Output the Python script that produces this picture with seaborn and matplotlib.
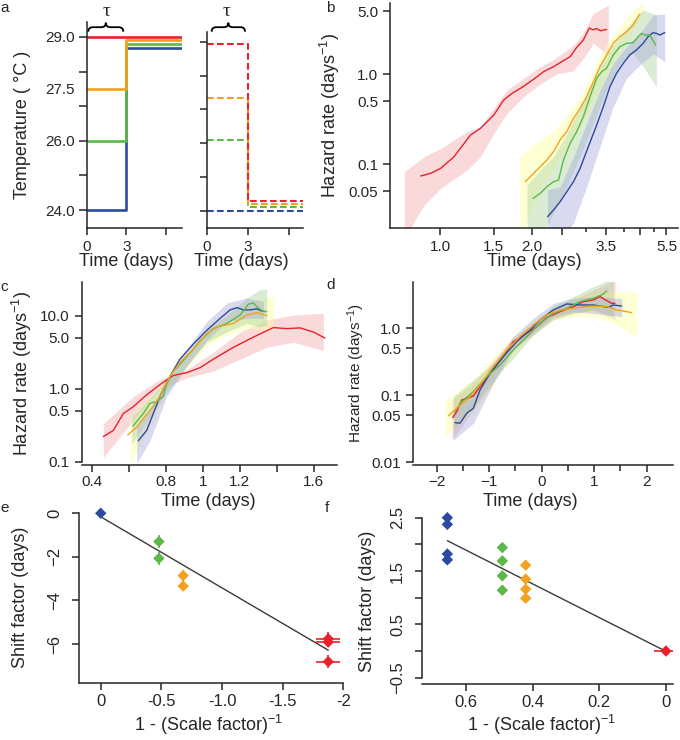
import numpy as np
import pandas as pd
import matplotlib
matplotlib.use("Agg")
import matplotlib.pyplot as plt
import seaborn as sns
from matplotlib.path import Path
from matplotlib.patches import PathPatch
from matplotlib.ticker import NullLocator
from matplotlib.transforms import Affine2D

# ---------------- data ----------------
temp_levels = ["29.0", "27.5", "26.0", "24.0"]
line_colors = ["#E8212A", "#F4A11D", "#5CB848", "#2C4A9F"]
band_colors = ["#F4A6AB", "#FFFF99", "#A9D39A", "#A5A8DA"]

# panel a: temperature protocols (tau = 3 days)
tau = 3.0
t_end_up = 7.25
t_end_down = 6.95
temp_start_up = [29.0, 27.5, 26.0, 24.0]
temp_after_up = [29.0, 28.9, 28.8, 28.68]
temp_start_down = [28.95, 27.35, 26.1, 24.0]
temp_after_down = [24.3, 24.2, 24.1, 24.0]

# panel b: hazard rate vs time (log-log)
b_red_t = [0.865, 0.932, 1.005, 1.111, 1.258, 1.356, 1.499, 1.615, 1.720, 1.854, 2.023,
           2.181, 2.350, 2.50, 2.663, 2.799, 2.942, 3.077, 3.16, 3.252, 3.35, 3.505]
b_red_h = [0.0736, 0.0788, 0.0895, 0.1206, 0.210, 0.249, 0.350, 0.514, 0.610, 0.711, 0.873,
           1.062, 1.206, 1.371, 1.559, 1.978, 2.387, 3.243, 3.10, 3.20, 3.02, 3.13]
b_orange_t = [1.901, 1.998, 2.127, 2.236, 2.350, 2.471, 2.597, 2.731, 2.871, 3.017, 3.172,
              3.334, 3.505, 3.685, 3.874, 4.072, 4.280, 4.500]
b_orange_h = [0.0636, 0.0755, 0.0934, 0.1108, 0.137, 0.185, 0.229, 0.322, 0.415, 0.560, 0.822,
              1.21, 1.63, 2.19, 2.60, 2.95, 3.50, 4.64]
b_green_t = [2.013, 2.127, 2.236, 2.350, 2.440, 2.533, 2.663, 2.799, 2.943, 3.094, 3.252,
             3.376, 3.505, 3.685, 3.874, 4.072, 4.280, 4.444, 4.557, 4.672, 4.851, 5.073]
b_green_h = [0.0415, 0.0472, 0.0560, 0.0636, 0.0664, 0.1108, 0.170, 0.229, 0.336, 0.560, 0.895,
             1.06, 1.16, 1.63, 2.01, 2.19, 2.23, 2.60, 2.83, 2.71, 2.71, 2.10]
b_blue_t = [2.247, 2.350, 2.471, 2.597, 2.731, 2.871, 3.055, 3.252, 3.420, 3.594, 3.778,
            3.972, 4.175, 4.389, 4.614, 4.790, 4.973, 5.099, 5.228, 5.428]
b_blue_h = [0.0260, 0.0308, 0.0382, 0.0493, 0.0636, 0.0895, 0.156, 0.271, 0.434, 0.723, 1.02,
            1.31, 1.63, 1.85, 2.19, 2.60, 2.88, 2.83, 2.71, 2.88]

b_red_band_t = [0.764, 0.887, 1.005, 1.227, 1.356, 1.499, 1.656, 1.877, 2.127, 2.41, 2.73, 2.942, 3.17, 3.55]
b_red_lo = [0.015, 0.035, 0.0537, 0.0858, 0.1206, 0.219, 0.365, 0.560, 0.774, 1.0, 1.089, 1.49, 2.19, 1.63]
b_red_hi = [0.0822, 0.1206, 0.149, 0.229, 0.260, 0.416, 0.664, 0.895, 1.206, 1.53, 2.10, 2.83, 4.72, 5.84]
b_orange_band_t = [1.821, 1.973, 2.127, 2.350, 2.597, 2.871, 3.172, 3.505, 3.874, 4.280, 4.614]
b_orange_lo = [0.015, 0.0283, 0.056, 0.0858, 0.156, 0.260, 0.514, 1.02, 1.85, 3.08, 4.72]
b_orange_hi = [0.121, 0.156, 0.185, 0.229, 0.350, 0.560, 1.11, 2.19, 3.36, 5.14, 6.1]
b_green_band_t = [1.924, 2.127, 2.350, 2.597, 2.871, 3.172, 3.505, 3.874, 4.280, 4.614, 5.099]
b_green_lo = [0.015, 0.015, 0.0283, 0.0560, 0.121, 0.283, 0.664, 1.31, 1.70, 1.21, 0.723]
b_green_hi = [0.0584, 0.0858, 0.121, 0.219, 0.434, 0.858, 1.70, 2.60, 3.98, 5.14, 4.52]
b_blue_band_t = [2.247, 2.471, 2.731, 3.017, 3.334, 3.685, 4.072, 4.500, 4.973, 5.428]
b_blue_lo = [0.015, 0.015, 0.022, 0.056, 0.156, 0.434, 0.895, 1.26, 1.67, 1.37]
b_blue_hi = [0.0514, 0.0560, 0.121, 0.283, 0.664, 1.31, 2.01, 2.83, 4.52, 4.64]

# panel c: rescaled time
c_red_t = [0.463, 0.517, 0.571, 0.625, 0.697, 0.769, 0.841, 0.913, 0.986, 1.058, 1.166,
           1.274, 1.382, 1.454, 1.526, 1.598, 1.661]
c_red_h = [0.221, 0.268, 0.457, 0.567, 0.825, 1.137, 1.518, 1.655, 1.942, 2.54, 3.69,
           5.09, 6.87, 6.65, 6.80, 5.98, 4.93]
c_orange_t = [0.595, 0.643, 0.679, 0.724, 0.769, 0.823, 0.877, 0.950, 1.022, 1.076, 1.166,
              1.238, 1.292, 1.346]
c_orange_h = [0.233, 0.298, 0.390, 0.537, 0.782, 1.486, 2.28, 3.50, 5.67, 7.02, 7.82,
              10.2, 11.0, 10.0]
c_green_t = [0.622, 0.679, 0.715, 0.751, 0.787, 0.805, 0.832, 0.877, 0.950, 0.986, 1.058,
             1.130, 1.202, 1.247, 1.274, 1.301, 1.328, 1.346]
c_green_h = [0.305, 0.457, 0.631, 0.666, 0.782, 1.14, 1.62, 2.16, 3.50, 4.58, 6.66,
             7.82, 10.2, 14.4, 14.9, 12.7, 11.4, 11.4]
c_blue_t = [0.652, 0.697, 0.733, 0.769, 0.805, 0.832, 0.877, 0.950, 1.022, 1.094, 1.148,
            1.184, 1.220, 1.256, 1.292, 1.319, 1.337]
c_blue_h = [0.194, 0.268, 0.457, 0.782, 1.20, 1.62, 2.54, 4.11, 6.31, 9.18, 12.0,
            12.9, 12.0, 12.0, 12.4, 11.6, 11.4]

c_red_band_t = [0.463, 0.625, 0.769, 0.914, 1.058, 1.202, 1.346, 1.490, 1.652]
c_red_lo = [0.114, 0.369, 0.968, 1.41, 1.746, 2.54, 3.69, 4.34, 3.32]
c_red_hi = [0.332, 0.782, 1.335, 1.84, 3.15, 5.98, 8.70, 10.2, 10.8]
c_orange_band_t = [0.607, 0.715, 0.805, 0.914, 1.022, 1.130, 1.238, 1.382]
c_orange_lo = [0.0969, 0.298, 0.968, 1.84, 3.90, 5.37, 6.66, 6.31]
c_orange_hi = [0.411, 0.782, 1.335, 3.15, 6.66, 10.2, 15.7, 18.4]
c_green_band_t = [0.616, 0.715, 0.805, 0.914, 1.022, 1.130, 1.238, 1.310, 1.346]
c_green_lo = [0.1745, 0.411, 0.870, 2.05, 4.34, 5.98, 7.82, 7.02, 7.41]
c_green_hi = [0.411, 0.741, 1.335, 2.83, 6.31, 10.2, 17.5, 22.8, 22.8]
c_blue_band_t = [0.643, 0.715, 0.805, 0.914, 1.022, 1.130, 1.238, 1.328]
c_blue_lo = [0.095, 0.194, 0.782, 2.05, 4.58, 8.25, 9.18, 9.18]
c_blue_hi = [0.298, 0.509, 1.335, 3.50, 8.25, 14.9, 17.5, 15.7]

# panel d: shifted time
d_red_t = [-1.695, -1.619, -1.524, -1.429, -1.302, -1.175, -0.984, -0.730, -0.540, -0.286,
           -0.095, 0.095, 0.349, 0.603, 0.794, 0.984, 1.111, 1.238, 1.333, 1.397]
d_red_h = [0.0464, 0.0571, 0.0851, 0.0902, 0.0977, 0.1346, 0.213, 0.378, 0.632, 0.842,
           1.059, 1.443, 1.773, 2.10, 2.50, 2.65, 2.97, 2.59, 2.36, 2.36]
d_orange_t = [-1.778, -1.651, -1.556, -1.397, -1.175, -0.921, -0.667, -0.413, -0.159, 0.095,
              0.349, 0.603, 0.857, 1.048, 1.238, 1.429, 1.619, 1.714]
d_orange_h = [0.0497, 0.0604, 0.0717, 0.0902, 0.1426, 0.268, 0.475, 0.751, 1.121, 1.58,
              1.88, 1.99, 2.11, 2.15, 2.11, 1.88, 1.77, 1.71]
d_green_t = [-1.651, -1.556, -1.302, -1.048, -0.794, -0.540, -0.286, -0.032, 0.222, 0.476,
             0.730, 0.984, 1.175, 1.238]
d_green_h = [0.0571, 0.076, 0.1134, 0.190, 0.2835, 0.475, 0.751, 1.19, 1.67, 1.99,
             2.50, 2.80, 3.25, 3.61]
d_blue_t = [-1.651, -1.556, -1.429, -1.302, -1.175, -0.984, -0.730, -0.476, -0.222, -0.032,
            0.222, 0.476, 0.730, 0.984, 1.175, 1.270, 1.365, 1.524]
d_blue_h = [0.0391, 0.0382, 0.0539, 0.064, 0.120, 0.213, 0.378, 0.632, 0.944, 1.33,
            1.88, 2.31, 2.23, 2.23, 2.11, 2.06, 2.23, 2.15]

d_red_band_t = [-1.714, -1.302, -0.921, -0.540, -0.159, 0.222, 0.603, 0.984, 1.397]
d_red_lo = [0.0215, 0.0604, 0.151, 0.475, 0.795, 1.41, 1.67, 1.88, 1.33]
d_red_hi = [0.0852, 0.151, 0.337, 0.751, 1.19, 1.99, 2.65, 3.73, 5.26]
d_orange_band_t = [-1.841, -1.302, -0.921, -0.540, -0.159, 0.222, 0.603, 0.984, 1.365, 1.810]
d_orange_lo = [0.0242, 0.0539, 0.151, 0.424, 0.842, 1.33, 1.49, 1.49, 1.19, 0.751]
d_orange_hi = [0.0852, 0.1694, 0.378, 0.751, 1.33, 2.11, 2.97, 3.33, 3.53, 3.53]
d_green_band_t = [-1.683, -1.302, -0.921, -0.540, -0.159, 0.222, 0.603, 0.984, 1.365]
d_green_lo = [0.0304, 0.0677, 0.1694, 0.357, 0.795, 1.33, 1.67, 1.88, 1.49]
d_green_hi = [0.0955, 0.1694, 0.300, 0.632, 1.19, 2.11, 2.97, 4.19, 5.58]
d_blue_band_t = [-1.683, -1.302, -0.921, -0.540, -0.159, 0.222, 0.603, 0.984, 1.524]
d_blue_lo = [0.0215, 0.0382, 0.151, 0.503, 0.842, 1.49, 1.77, 1.67, 1.49]
d_blue_hi = [0.0604, 0.1071, 0.300, 0.751, 1.41, 2.36, 2.80, 2.97, 2.80]

# panel e / f: shift factor vs 1 - 1/scale
e_temp = ["24.0", "26.0", "26.0", "27.5", "27.5", "29.0", "29.0", "29.0"]
e_x = [0.0, -0.48, -0.48, -0.68, -0.68, -1.876, -1.876, -1.876]
e_y = [0.0, -1.30, -2.07, -2.86, -3.34, -5.76, -5.91, -6.81]
e_xerr = [0.0, 0.0, 0.0, 0.0, 0.0, 0.1, 0.1, 0.1]
e_yerr = [0.05, 0.3, 0.3, 0.27, 0.1, 0.3, 0.1, 0.3]

f_temp = ["24.0"] * 4 + ["26.0"] * 4 + ["27.5"] * 4 + ["29.0"]
f_x = [0.656] * 4 + [0.491] * 4 + [0.421] * 4 + [0.0]
f_y = [2.5, 2.375, 1.82, 1.71, 1.94, 1.69, 1.41, 1.14, 1.61, 1.35, 1.16, 0.99, 0.0]
f_xerr = [0.0] * 12 + [0.037]
f_yerr = [0.07, 0.07, 0.07, 0.07, 0.08, 0.08, 0.08, 0.08, 0.07, 0.07, 0.07, 0.07, 0.02]

# ---------------- style ----------------
sns.set_style("ticks")
plt.rcParams["font.family"] = ["Liberation Sans", "DejaVu Sans"]
plt.rcParams["mathtext.fontset"] = "custom"
plt.rcParams["mathtext.rm"] = "Liberation Sans"
plt.rcParams["mathtext.it"] = "Liberation Sans:italic"
plt.rcParams["axes.linewidth"] = 1.1
plt.rcParams["axes.facecolor"] = "none"
plt.rcParams["xtick.major.width"] = 1.1
plt.rcParams["ytick.major.width"] = 1.1
plt.rcParams["xtick.major.size"] = 5
plt.rcParams["ytick.major.size"] = 5
plt.rcParams["xtick.labelsize"] = 11
plt.rcParams["ytick.labelsize"] = 11
plt.rcParams["axes.labelsize"] = 13

W, H = 680, 740
fig = plt.figure(figsize=(W / 100, H / 100), dpi=100, facecolor="white")
color_of = dict(zip(temp_levels, line_colors))
band_of = dict(zip(temp_levels, band_colors))


def px_axes(left, top, right, bottom):
    ax = fig.add_axes([left / W, 1 - bottom / H, (right - left) / W, (bottom - top) / H])
    ax.patch.set_visible(False)
    return ax


def place_labels(ax, xlab=None, ylab=None):
    pos = ax.get_position()
    if xlab is not None:
        ax.xaxis.set_label_coords((xlab[0] / W - pos.x0) / pos.width,
                                  ((1 - xlab[1] / H) - pos.y0) / pos.height)
        ax.xaxis.label.set_va("center")
    if ylab is not None:
        ax.yaxis.set_label_coords((ylab[0] / W - pos.x0) / pos.width,
                                  ((1 - ylab[1] / H) - pos.y0) / pos.height)
        ax.yaxis.label.set_va("center")


def brace(x0, x1, yb, h):
    xm = (x0 + x1) / 2
    q = (x1 - x0) * 0.13
    ym = yb - h / 2
    verts = [(x0, yb), (x0, ym), (x0 + q, ym), (xm - q, ym), (xm, ym), (xm, yb - h),
             (xm, ym), (xm + q, ym), (x1 - q, ym), (x1, ym), (x1, yb)]
    codes = [Path.MOVETO, Path.CURVE3, Path.CURVE3, Path.LINETO, Path.CURVE3, Path.CURVE3,
             Path.CURVE3, Path.CURVE3, Path.LINETO, Path.CURVE3, Path.CURVE3]
    trans = Affine2D().scale(1 / W, -1 / H).translate(0, 1) + fig.transFigure
    fig.add_artist(PathPatch(Path(verts, codes), fc="none", ec="black", lw=1.3, transform=trans))


def hazard_panel(ax, lines, bands):
    for lvl, t, lo, hi in bands:
        ax.fill_between(t, lo, hi, color=band_of[lvl], alpha=0.42, lw=0)
    rows = []
    for lvl, t, h in lines:
        rows.append(pd.DataFrame({"t": t, "h": h, "temp": lvl}))
    df = pd.concat(rows, ignore_index=True)
    for lvl in ["29.0", "24.0", "26.0", "27.5"]:
        sub = df[df["temp"] == lvl]
        if len(sub):
            sns.lineplot(data=sub, x="t", y="h", color=color_of[lvl], lw=1.0,
                         estimator=None, sort=False, ax=ax)
    ax.set_yscale("log")
    ax.yaxis.set_minor_locator(NullLocator())
    ax.set_xlabel("Time (days)")
    ax.set_ylabel("Hazard rate (days$^{-1}$)")


# ---------------- panel a ----------------
ax_a1 = px_axes(87, 22, 182, 227.7)
ax_a2 = px_axes(206.7, 31.7, 303, 227.7)
order_a = ["24.0", "26.0", "27.5", "29.0"]
for lvl in order_a:
    i = temp_levels.index(lvl)
    step_up = pd.DataFrame({"t": [0, tau, tau, t_end_up],
                            "T": [temp_start_up[i], temp_start_up[i], temp_after_up[i], temp_after_up[i]]})
    sns.lineplot(data=step_up, x="t", y="T", color=line_colors[i], lw=1.9,
                 estimator=None, sort=False, ax=ax_a1)
    step_dn = pd.DataFrame({"t": [0, tau, tau, t_end_down],
                            "T": [temp_start_down[i], temp_start_down[i], temp_after_down[i], temp_after_down[i]]})
    sns.lineplot(data=step_dn, x="t", y="T", color=line_colors[i], lw=1.5,
                 estimator=None, sort=False, ax=ax_a2, linestyle=(0, (3.2, 1.6)))

ax_a1.set_xlim(0, 7.25)
ax_a1.set_ylim(23.49, 29.43)
ax_a2.set_xlim(0, 6.98)
ax_a2.set_ylim(23.5, 29.3)
for ax in (ax_a1, ax_a2):
    ax.set_xticks([0, 3, 6], ["0", "3", ""])
    ax.set_xlabel("Time (days)")
# unlabeled ticks at whole degrees, labels at the four protocol temperatures
ax_a1.set_yticks([24, 26, 27.5, 29], ["24.0", "26.0", "27.5", "29.0"])
ax_a1.tick_params(axis="y", which="major", length=0, pad=9)
ax_a1.yaxis.remove_overlapping_locs = False
ax_a1.set_yticks([24, 25, 26, 27, 28, 29], [], minor=True)
ax_a1.tick_params(axis="y", which="minor", length=6, width=1.1)
ax_a2.set_yticks([24, 25, 26, 27, 28, 29], [])
ax_a1.set_ylabel("Temperature ( °C )")
ax_a2.set_ylabel("")
place_labels(ax_a1, xlab=(126, 261), ylab=(22, 125))
place_labels(ax_a2, xlab=(241, 261))
brace(88.3, 123.3, 31.7, 9)
brace(211.7, 245, 31.7, 9)
fig.text(107 / W, 1 - 12 / H, "τ", family=["Liberation Serif", "DejaVu Serif"], fontsize=14,
         ha="center", va="center")
fig.text(227 / W, 1 - 11 / H, "τ", family=["Liberation Serif", "DejaVu Serif"], fontsize=14,
         ha="center", va="center")

# ---------------- panel b ----------------
ax_b = px_axes(390, 3, 678, 228)
hazard_panel(ax_b,
             [("29.0", b_red_t, b_red_h), ("27.5", b_orange_t, b_orange_h),
              ("26.0", b_green_t, b_green_h), ("24.0", b_blue_t, b_blue_h)],
             [("29.0", b_red_band_t, b_red_lo, b_red_hi),
              ("27.5", b_orange_band_t, b_orange_lo, b_orange_hi),
              ("26.0", b_green_band_t, b_green_lo, b_green_hi),
              ("24.0", b_blue_band_t, b_blue_lo, b_blue_hi)])
ax_b.set_xscale("log")
ax_b.set_xlim(0.686, 6.0)
ax_b.set_ylim(0.01945, 6.15)
ax_b.set_xticks([1, 1.5, 2, 2.5, 3.5, 4.5, 5.5], ["1.0", "1.5", "2.0", "", "3.5", "", "5.5"])
ax_b.set_xticks([3, 4, 5], [], minor=True)
ax_b.tick_params(axis="x", which="minor", length=3, width=1.1)
ax_b.set_yticks([0.05, 0.1, 0.5, 1.0, 5.0], ["0.05", "0.1", "0.5", "1.0", "5.0"])
place_labels(ax_b, xlab=(534, 261), ylab=(330, 115))

# ---------------- panel c ----------------
ax_c = px_axes(81.7, 281.7, 336.7, 461.7)
hazard_panel(ax_c,
             [("29.0", c_red_t, c_red_h), ("27.5", c_orange_t, c_orange_h),
              ("26.0", c_green_t, c_green_h), ("24.0", c_blue_t, c_blue_h)],
             [("29.0", c_red_band_t, c_red_lo, c_red_hi),
              ("27.5", c_orange_band_t, c_orange_lo, c_orange_hi),
              ("26.0", c_green_band_t, c_green_lo, c_green_hi),
              ("24.0", c_blue_band_t, c_blue_lo, c_blue_hi)])
ax_c.set_xlim(0.346, 1.724)
ax_c.set_ylim(0.1, 29.2)
ax_c.set_xticks([0.4, 0.6, 0.8, 1.0, 1.2, 1.4, 1.6], ["0.4", "", "0.8", "1", "1.2", "", "1.6"])
ax_c.set_yticks([0.1, 0.5, 1.0, 5.0, 10.0], ["0.1", "0.5", "1.0", "5.0", "10.0"])
ax_c.spines["bottom"].set_position(("outward", 2.4))
ax_c.tick_params(axis="x", pad=2.5)
place_labels(ax_c, xlab=(208, 502), ylab=(22, 373))

# ---------------- panel d ----------------
ax_d = px_axes(413.3, 281.7, 673.3, 462.3)
hazard_panel(ax_d,
             [("29.0", d_red_t, d_red_h), ("27.5", d_orange_t, d_orange_h),
              ("26.0", d_green_t, d_green_h), ("24.0", d_blue_t, d_blue_h)],
             [("29.0", d_red_band_t, d_red_lo, d_red_hi),
              ("27.5", d_orange_band_t, d_orange_lo, d_orange_hi),
              ("26.0", d_green_band_t, d_green_lo, d_green_hi),
              ("24.0", d_blue_band_t, d_blue_lo, d_blue_hi)])
ax_d.set_xlim(-2.446, 2.507)
ax_d.set_ylim(0.01, 4.96)
ax_d.set_xticks([-2, -1, 0, 1, 2], ["\u22122", "\u22121", "0", "1", "2"])
ax_d.set_xticks([-1.5, -0.5, 0.5, 1.5], [], minor=True)
ax_d.tick_params(axis="x", which="minor", length=4, width=1.1)
ax_d.tick_params(axis="x", pad=2.5)
ax_d.set_yticks([0.01, 0.05, 0.1, 0.5, 1.0], ["0.01", "0.05", "0.1", "0.5", "1.0"])
ax_d.spines["bottom"].set_position(("outward", 2))
ax_d.yaxis.label.set_fontsize(11)
place_labels(ax_d, xlab=(530, 501), ylab=(356, 373))


# ---------------- panels e, f ----------------
def shift_panel(ax, temp, x, y, xerr, yerr):
    df = pd.DataFrame({"x": x, "y": y, "xerr": xerr, "yerr": yerr, "temp": temp})
    coef = np.polyfit(df["x"], df["y"], 1, w=1.0 / df["yerr"])
    xs = np.array([df["x"].min(), df["x"].max()])
    sns.lineplot(x=xs, y=np.polyval(coef, xs), color="#3a3a3a", lw=1.0, ax=ax)
    for lvl, sub in df.groupby("temp"):
        ax.errorbar(sub["x"], sub["y"], xerr=sub["xerr"], yerr=sub["yerr"], fmt="none",
                    ecolor=color_of[lvl], elinewidth=1.2, capsize=0, zorder=3)
    sns.scatterplot(data=df, x="x", y="y", hue="temp", palette=color_of, marker="D", s=34,
                    linewidth=0, legend=False, ax=ax, zorder=4)
    ax.set_xlabel("1 - (Scale factor)$^{-1}$")
    ax.set_ylabel("Shift factor (days)")
    ax.tick_params(axis="both", labelsize=12, length=5)
    ax.tick_params(axis="y", labelrotation=90, pad=7)
    ax.tick_params(axis="x", pad=3)


ax_e = px_axes(79, 503, 343.3, 683.3)
shift_panel(ax_e, e_temp, e_x, e_y, e_xerr, e_yerr)
ax_e.set_xlim(0.179, -2.0)
ax_e.set_ylim(-7.8, 0.47)
ax_e.set_xticks([0, -0.5, -1.0, -1.5, -2.0], ["0", "-0.5", "-1.0", "-1.5", "-2"])
ax_e.set_yticks([0, -2, -4, -6], ["0", "\u22122", "\u22124", "\u22126"])
ax_e.spines["left"].set_bounds(-7.8, 0)
for lab in ax_e.get_yticklabels():
    lab.set_va("center")
place_labels(ax_e, xlab=(208, 725), ylab=(21, 597))

ax_f = px_axes(421.7, 503, 673.3, 677.7)
shift_panel(ax_f, f_temp, f_x, f_y, f_xerr, f_yerr)
ax_f.set_xlim(0.733, -0.022)
ax_f.set_ylim(-0.5, 2.776)
ax_f.set_xticks([0.6, 0.4, 0.2, 0.0], ["0.6", "0.4", "0.2", "0"])
ax_f.set_yticks([-0.5, 0.0, 0.5, 1.0, 1.5, 2.0, 2.5], ["\u22120.5", "", "0.5", "", "1.5", "", "2.5"])
ax_f.spines["left"].set_bounds(-0.5, 2.5)
ax_f.spines["bottom"].set_position(("outward", 4.7))
for lab in ax_f.get_yticklabels():
    lab.set_va("center")
place_labels(ax_f, xlab=(541, 725), ylab=(368, 601))

sns.despine(fig=fig)

# panel letters
for letter, xp, yp in [("a", 0, 8), ("b", 326, 8), ("c", 0, 287), ("d", 326, 285),
                       ("e", 0, 508), ("f", 325, 508)]:
    fig.text(xp / W, 1 - yp / H, letter, fontsize=11, ha="left", va="center")

fig.savefig("out.png", dpi=100, facecolor="white")
